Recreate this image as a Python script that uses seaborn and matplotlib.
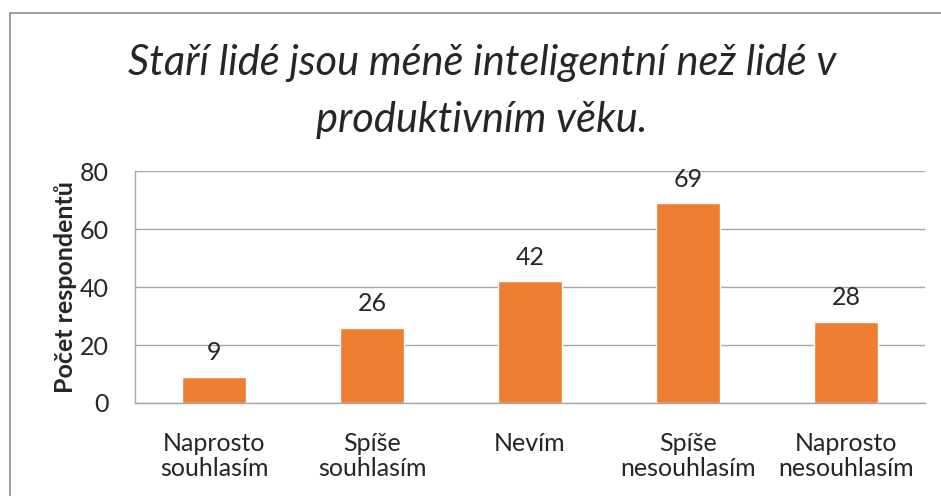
import matplotlib
matplotlib.use("Agg")
import matplotlib.pyplot as plt
import seaborn as sns
import pandas as pd
from matplotlib.patches import Rectangle

categories = ["Naprosto\nsouhlasím", "Spíše\nsouhlasím", "Nevím",
              "Spíše\nnesouhlasím", "Naprosto\nnesouhlasím"]
counts = [9, 26, 42, 69, 28]
yticks = [0, 20, 40, 60, 80]

title = "Staří lidé jsou méně inteligentní než lidé v\nproduktivním věku."
ylabel = "Počet respondentů"

sns.set_style("white")
plt.rcParams["font.family"] = ["Lato", "DejaVu Sans"]

df = pd.DataFrame({"odpoved": categories, "pocet": counts})

fig = plt.figure(figsize=(9.41, 4.96), dpi=100)
ax = fig.add_axes([0.1435, 0.1875, 0.8395, 0.4675])

sns.barplot(data=df, x="odpoved", y="pocet", color="#ED7D31", width=0.4,
            saturation=1, ax=ax)

ax.set_ylim(0, 80)
ax.set_yticks(yticks)
ax.yaxis.grid(True, color="#A6A6A6", linewidth=1)
ax.set_axisbelow(True)
for s in ["top", "right"]:
    ax.spines[s].set_visible(False)
for s in ["left", "bottom"]:
    ax.spines[s].set_color("#A6A6A6")
    ax.spines[s].set_linewidth(1)
ax.tick_params(axis="y", length=0, pad=19, labelsize=18)
ax.tick_params(axis="x", length=0, pad=21, labelsize=18)
for lab in ax.get_xticklabels():
    lab.set_linespacing(1.12)
ax.set_xlabel("")
ax.set_ylabel(ylabel, fontsize=18, fontweight="bold", labelpad=2)

for i, v in enumerate(counts):
    ax.annotate(str(v), (i, v), xytext=(0, 9), textcoords="offset points",
                ha="center", va="bottom", fontsize=18)

fig.text(0.512, 0.816, title, ha="center", va="center", fontsize=30,
         style="italic", linespacing=1.62)

fig.patches.append(Rectangle((10 / 941, -0.05), 1.1, 1 - 13 / 496 + 0.05,
                             transform=fig.transFigure, fill=False,
                             edgecolor="#8C8C8C", linewidth=1.2))

fig.savefig("out.png", dpi=100)
